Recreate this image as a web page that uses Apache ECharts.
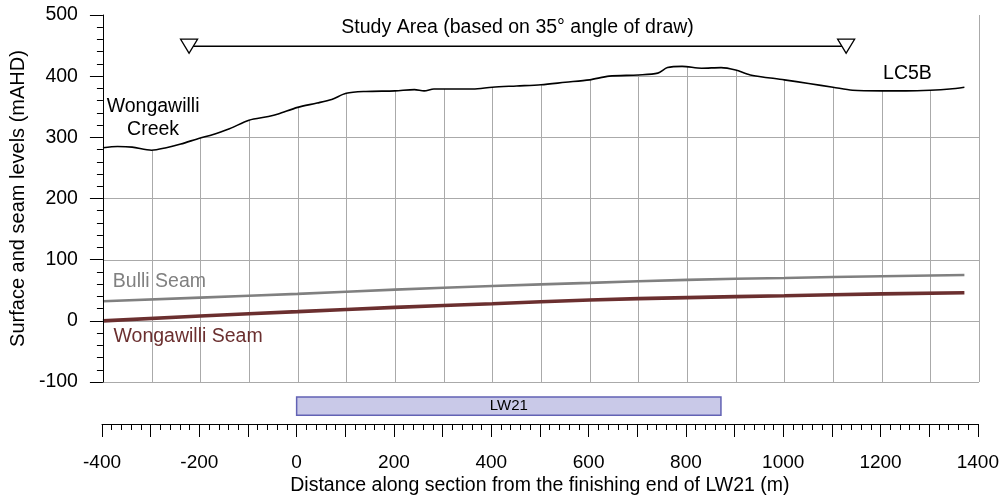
<!DOCTYPE html>
<html>
<head>
<meta charset="utf-8">
<script src="https://cdn.jsdelivr.net/npm/echarts@6/dist/echarts.min.js"></script>
<style>
  html, body { margin: 0; padding: 0; background: #fff; }
  #main { width: 1002px; height: 497px; }
</style>
</head>
<body>
<div id="main"></div>
<script>
// ground surface along the section
let terrainX = [-400, -370, -340, -300, -270, -240, -200, -180, -140, -100, -60, -40, 0, 40, 70, 100, 140, 200, 240, 260, 280, 320, 360, 400, 450, 500, 550, 600, 640, 700, 740, 760, 790, 830, 870, 900, 930, 1000, 1050, 1100, 1140, 1200, 1250, 1300, 1340, 1370];
let terrainY = [283, 285, 284, 279, 283, 289, 299, 303, 314, 328, 334, 338, 349, 356, 362, 372, 375, 376, 378, 376, 379, 379, 379, 382, 384, 386, 390, 394, 400, 402, 405, 414, 416, 413, 414, 410, 402, 394, 388, 382, 377, 376, 376, 377, 379, 382];

// seams
let seamX = [-400, -200, 0, 200, 400, 600, 800, 1000, 1200, 1370];
let bulliY = [32, 38, 44, 51, 57, 62, 67, 70, 73, 75];
let wongawilliY = [0, 8, 15, 22, 28, 34, 38, 41, 44, 46];

// study area (35 deg angle of draw)
let studyX = [-223, 1127];
let studyLevel = 449;

// longwall panel
let panelName = 'LW21';
let panelStart = 0;
let panelEnd = 872;

// grid line positions (same as the axis ticks)
let gridXTicks = [-400, -300, -200, -100, 0, 100, 200, 300, 400, 500, 600, 700, 800, 900, 1000, 1100, 1200, 1300, 1400];
let gridYTicks = [-100, 0, 100, 200, 300, 400, 500];

// text notes
let noteText = ['Wongawilli\nCreek', 'LC5B', 'Bulli Seam', 'Wongawilli Seam', 'Study Area (based on 35° angle of draw)'];
let noteX = [-297, 1253, -284, -225, 452];
let noteY = [332, 404, 64, -26, 480];
let noteColor = ['#000000', '#000000', '#808080', '#6b2f2f', '#000000'];

let FONT = 'Liberation Sans, Arial, sans-serif';

function zip(xs, ys) {
    let out = [];
    for (let i = 0; i < xs.length; i = i + 1) {
        out.push([xs[i], ys[i]]);
    }
    return out;
}

// grey grid, drawn as a series so the sky mask can sit on top of it
function renderGrid(params, api) {
    let kids = [];
    let yMin = gridYTicks[0], yMax = gridYTicks[gridYTicks.length - 1];
    let xMin = gridXTicks[0], xMax = gridXTicks[gridXTicks.length - 1];
    for (let i = 0; i < gridXTicks.length; i = i + 1) {
        let p0 = api.coord([gridXTicks[i], yMin]);
        let p1 = api.coord([gridXTicks[i], yMax]);
        let px = Math.round(p0[0]) + 0.5;
        kids.push({ type: 'line', shape: { x1: px, y1: p0[1], x2: px, y2: p1[1] }, style: { stroke: '#aaa', lineWidth: 1 } });
    }
    for (let j = 0; j < gridYTicks.length; j = j + 1) {
        let q0 = api.coord([xMin, gridYTicks[j]]);
        let q1 = api.coord([xMax, gridYTicks[j]]);
        let py = Math.round(q0[1]) + 0.5;
        kids.push({ type: 'line', shape: { x1: q0[0], y1: py, x2: q1[0], y2: py }, style: { stroke: '#aaa', lineWidth: 1 } });
    }
    return { type: 'group', children: kids };
}

// white polygon from the ground line up to the top of the frame, hides the grid above ground
function renderSkyMask(params, api) {
    let pts = [];
    for (let i = 0; i < terrainX.length; i = i + 1) {
        pts.push(api.coord([terrainX[i], terrainY[i]]));
    }
    let last = terrainY[terrainY.length - 1];
    pts.push(api.coord([1400, last]));
    pts.push(api.coord([1400, 500]));
    pts.push(api.coord([-400, 500]));
    return {
        type: 'polygon',
        shape: { points: pts },
        style: { fill: '#ffffff' }
    };
}

function makeChart() {
    let myChart = echarts.init(document.getElementById('main'));

    let notes = [];
    for (let i = 0; i < noteText.length; i = i + 1) {
        notes.push({
            value: [noteX[i], noteY[i]],
            label: { formatter: noteText[i], color: noteColor[i] }
        });
    }

    let option = {
        animation: false,
        grid: [
            { left: 102, right: 23, top: 15, height: 367 },
            { left: 102, right: 23, top: 395, height: 30 }
        ],
        xAxis: [
            {
                gridIndex: 0, type: 'value', min: -400, max: 1400, interval: 100,
                axisLine: { show: false }, axisTick: { show: false }, axisLabel: { show: false },
                splitLine: { show: false }
            },
            {
                gridIndex: 1, type: 'value', min: -400, max: 1400, interval: 100,
                axisLine: { show: true, onZero: false, lineStyle: { color: '#000', width: 1 } },
                axisTick: { show: true, length: 13, lineStyle: { color: '#000' } },
                minorTick: { show: true, splitNumber: 5, length: 6, lineStyle: { color: '#000' } },
                axisLabel: {
                    margin: 29, color: '#000', fontSize: 19, fontFamily: FONT,
                    formatter: function (v) { return v % 200 === 0 ? String(v) : ''; }
                },
                splitLine: { show: false },
                name: 'Distance along section from the finishing end of LW21 (m)',
                nameLocation: 'middle', nameGap: 52,
                nameTextStyle: { color: '#000', fontSize: 19.5, fontFamily: FONT }
            }
        ],
        yAxis: [
            {
                gridIndex: 0, type: 'value', min: -100, max: 500, interval: 100, position: 'left',
                zlevel: 1, z: 30,
                axisLine: { show: true, onZero: false, lineStyle: { color: '#000', width: 1 } },
                axisTick: { show: true, length: 13, lineStyle: { color: '#000' } },
                minorTick: { show: true, splitNumber: 5, length: 6, lineStyle: { color: '#000' } },
                axisLabel: { margin: 25, color: '#000', fontSize: 19.5, fontFamily: FONT },
                splitLine: { show: false },
                name: 'Surface and seam levels (mAHD)',
                nameLocation: 'middle', nameGap: 74,
                nameTextStyle: { color: '#000', fontSize: 20, fontFamily: FONT }
            },
            { gridIndex: 1, type: 'value', min: 0, max: 1, show: false }
        ],
        series: [
            {
                type: 'custom', xAxisIndex: 0, yAxisIndex: 0, zlevel: 1, z: 14, silent: true, clip: false,
                data: [[0, 0]],
                renderItem: renderGrid
            },
            {
                type: 'custom', xAxisIndex: 0, yAxisIndex: 0, zlevel: 1, z: 15, silent: true, clip: false,
                data: [[0, 0]],
                renderItem: renderSkyMask
            },
            {
                type: 'line', xAxisIndex: 0, yAxisIndex: 0, data: zip(terrainX, terrainY), zlevel: 1, z: 16,
                symbol: 'none', smooth: 0.3, lineStyle: { color: '#000', width: 1.6 }
            },
            {
                type: 'line', xAxisIndex: 0, yAxisIndex: 0, data: zip(seamX, bulliY), zlevel: 1, z: 16,
                symbol: 'none', smooth: true, lineStyle: { color: '#808080', width: 2.6 }
            },
            {
                type: 'line', xAxisIndex: 0, yAxisIndex: 0, data: zip(seamX, wongawilliY), zlevel: 1, z: 16,
                symbol: 'none', smooth: true, lineStyle: { color: '#6b2f2f', width: 3.6 }
            },
            {
                type: 'line', xAxisIndex: 0, yAxisIndex: 0, zlevel: 1, z: 17,
                data: zip(studyX, [studyLevel, studyLevel]),
                symbol: 'triangle', symbolRotate: 180, symbolSize: [17, 14],
                itemStyle: { color: '#fff', borderColor: '#000', borderWidth: 1.3 },
                lineStyle: { color: '#000', width: 1.6 }
            },
            {
                type: 'scatter', xAxisIndex: 0, yAxisIndex: 0, data: notes, zlevel: 1, z: 18,
                symbolSize: 1, silent: true,
                itemStyle: { color: 'rgba(0,0,0,0)', opacity: 1 },
                label: {
                    show: true, position: 'inside', fontSize: 19.5, fontFamily: FONT,
                    lineHeight: 23, align: 'center', verticalAlign: 'middle',
                    textBorderWidth: 0, opacity: 1
                }
            },
            {
                type: 'custom', xAxisIndex: 1, yAxisIndex: 1, z: 5,
                data: [[panelStart, panelEnd, 0.3, 0.93]],
                renderItem: function (params, api) {
                    let a = api.coord([api.value(0), api.value(3)]);
                    let b = api.coord([api.value(1), api.value(2)]);
                    return {
                        type: 'group',
                        children: [
                            {
                                type: 'rect',
                                shape: { x: a[0], y: a[1], width: b[0] - a[0], height: b[1] - a[1] },
                                style: { fill: '#c9c9e8', stroke: '#6262b4', lineWidth: 1.5 }
                            },
                            {
                                type: 'text',
                                style: {
                                    text: panelName, x: (a[0] + b[0]) / 2, y: (a[1] + b[1]) / 2,
                                    align: 'center', verticalAlign: 'middle',
                                    fill: '#000', fontSize: 15, fontFamily: FONT
                                }
                            }
                        ]
                    };
                }
            }
        ]
    };

    myChart.setOption(option);
}

makeChart();
</script>
</body>
</html>
